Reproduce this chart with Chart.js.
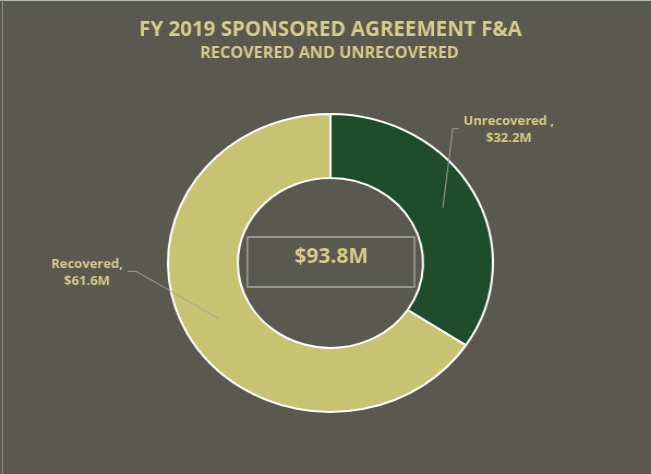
<!DOCTYPE html>
<html>
<head>
<meta charset="utf-8">
<script src="https://cdn.jsdelivr.net/npm/chart.js@4"></script>
<style>
  html, body { margin: 0; padding: 0; background: #5a5950; overflow: hidden; }
  body { width: 651px; height: 474px; position: relative; }
  #topLine { position: absolute; left: 0; top: 0; width: 651px; height: 1px; background: #b9b9b3; }
  #leftLine { position: absolute; left: 2px; top: 0; width: 1px; height: 474px; background: #8f8e87; }
  /* the original is an Excel doughnut squashed a bit, so stretch the canvas sideways */
  #wrap { position: absolute; left: 0; top: 0; width: 597px; height: 474px; transform: scaleX(1.0905); transform-origin: 0 0; }
</style>
</head>
<body>
<div id="topLine"></div>
<div id="leftLine"></div>
<div id="wrap"><canvas id="myChart"></canvas></div>
<script>
// chart data ($M)
const labels = ['Unrecovered', 'Recovered'];
const values = [32.2, 61.6];
const labelSep = [' ,', ','];   // excel left a space before the first comma
const colors = ['#1f4d2b', '#c8c273'];
const titleText = 'FY 2019 SPONSORED AGREEMENT F&A';
const subtitleText = 'RECOVERED AND UNRECOVERED';

const SX = 1.0905;            // horizontal stretch of the canvas
const textColor = '#d6ce88';
const font = '"Open Sans", sans-serif';

// callout offsets from the slice middle, in screen px
const callouts = [
    { elbow: [10, -79], end: [16, -79], text: [66, -86] },
    { elbow: [-82, -47], end: [-90, -47], text: [-131, -54] }
];

const total = values.reduce((a, b) => a + b, 0);

const textPlugin = {
    id: 'texts',
    afterDraw(chart) {
        const ctx = chart.ctx;
        const arcs = chart.getDatasetMeta(0).data;
        ctx.save();
        ctx.scale(1 / SX, 1);   // draw in screen coords so text isn't stretched
        ctx.textAlign = 'center';
        ctx.textBaseline = 'middle';
        ctx.fillStyle = textColor;

        // titles
        const cx = chart.width * SX / 2 + 5;
        ctx.font = 'bold 20.5px ' + font;
        ctx.fillText(titleText, cx, 30);
        ctx.font = 'bold 16.2px ' + font;
        ctx.fillText(subtitleText, cx - 1, 53);

        // centre total with box
        const ox = arcs[0].x * SX, oy = arcs[0].y;
        ctx.strokeStyle = '#a9a8a3';
        ctx.lineWidth = 1.5;
        ctx.strokeRect(ox - 83, oy - 26, 167, 50);
        ctx.font = 'bold 21px ' + font;
        ctx.fillText('$' + total.toFixed(1) + 'M', ox + 1, oy - 6);

        // slice labels with leader lines
        arcs.forEach((arc, i) => {
            const p = arc.tooltipPosition();
            const ax = p.x * SX, ay = p.y;
            const c = callouts[i];
            ctx.strokeStyle = '#a3a3a0';
            ctx.lineWidth = 1;
            ctx.beginPath();
            ctx.moveTo(ax, ay);
            ctx.lineTo(ax + c.elbow[0], ay + c.elbow[1]);
            ctx.lineTo(ax + c.end[0], ay + c.end[1]);
            ctx.stroke();
            ctx.font = 'bold 13px ' + font;
            ctx.fillText(labels[i] + labelSep[i], ax + c.text[0], ay + c.text[1]);
            ctx.fillText('$' + values[i].toFixed(1) + 'M', ax + c.text[0], ay + c.text[1] + 17);
        });
        ctx.restore();
    }
};

const ctx = document.getElementById('myChart');
const myChart = new Chart(ctx, {
    type: 'doughnut',
    data: {
        labels: labels,
        datasets: [{
            data: values,
            backgroundColor: colors,
            borderColor: '#ffffff',
            borderWidth: 2
        }]
    },
    options: {
        responsive: true,
        maintainAspectRatio: false,
        animation: false,
        cutout: '57%',
        layout: { padding: { top: 113, bottom: 61, left: 15, right: 6 } },
        plugins: {
            legend: { display: false },
            tooltip: { enabled: false }
        }
    },
    plugins: [textPlugin]
});
</script>
</body>
</html>
